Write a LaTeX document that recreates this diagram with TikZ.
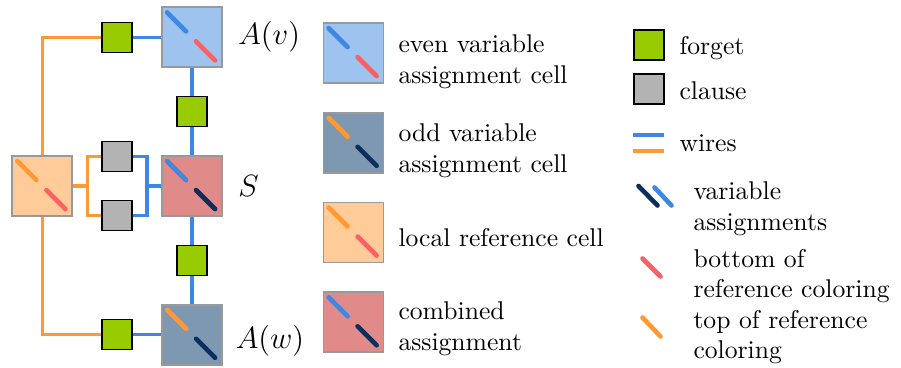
\documentclass[tikz,border=0pt]{standalone}
\usepackage{tikz}
\usetikzlibrary{positioning}
\definecolor{evencol}{HTML}{9EC3EE}
\definecolor{oddcol}{HTML}{7F98B2}
\definecolor{refcol}{HTML}{FFCC99}
\definecolor{combcol}{HTML}{E08A8A}
\definecolor{forgetcol}{HTML}{99CC00}
\definecolor{clausecol}{HTML}{B3B3B3}
\definecolor{wblue}{HTML}{3C88E2}
\definecolor{worange}{HTML}{FF9933}
\definecolor{sred}{HTML}{FA6064}
\definecolor{snavy}{HTML}{0A2F5E}
\tikzstyle{cell} = [rectangle, minimum size=23.4pt, inner sep=0pt, draw=black!40, line width=0.7pt]
\tikzstyle{forget} = [rectangle, minimum size=11.7pt, inner sep=0pt, draw=black, line width=0.6pt, fill=forgetcol]
\tikzstyle{clause} = [forget, fill=clausecol]
\tikzstyle{bwire} = [wblue, line width=1.2pt]
\tikzstyle{owire} = [worange, line width=1.2pt]
\tikzstyle{slash} = [line width=1.8pt, line cap=round]
\tikzstyle{legtext} = [anchor=west, inner sep=0pt, align=left]
\tikzstyle{celllabel} = [font=\large]
\newcommand{\cellslash}[3]{%
\draw[slash,#2,shift={(#1.north west)}] (6,6) -- (25,25);
\draw[slash,#3,shift={(#1.north west)}] (35,35) -- (54,54);}

\begin{document}
\begin{tikzpicture}[x=0.39pt, y=-0.39pt, node distance=10.8pt]
\useasboundingbox (0,0) rectangle (901,368);

\node(s) [cell, fill=combcol] at (192,186) {};
\node(forget_a) [forget, above=of s] {};
\node(av) [cell, fill=evencol, above=of forget_a] {};
\node(forget_b) [forget, below=of s] {};
\node(aw) [cell, fill=oddcol, below=of forget_b] {};
\node(lref) [cell, fill=refcol, left=34.3pt of s] {};
\node(forget_v) [forget, left=11pt of av] {};
\node(forget_w) [forget, left=11pt of aw] {};
\node(clause_a) [clause] at (117,156.5) {};
\node(clause_b) [clause] at (117,215.5) {};
\coordinate[right=5.5pt of lref] (j_ref);
\coordinate[left=5.5pt of s] (j_s);

\node(lab_av) [celllabel, right=2.5pt of av] {$A(v)$};
\node(lab_s) [celllabel, right=2.5pt of s] {$S$};
\node(lab_aw) [celllabel, right=1.5pt of aw, yshift=-2.3pt] {$A(w)$};

\draw[owire] (lref) |- (forget_v);
\draw[owire] (lref) |- (forget_w);
\draw[owire] (lref) -- (j_ref);
\draw[owire] (clause_a) -| (j_ref) |- (clause_b);
\draw[bwire] (clause_a) -| (j_s) |- (clause_b);
\draw[bwire] (j_s) -- (s);
\draw[bwire] (forget_v) edge (av) (forget_w) edge (aw);
\draw[bwire] (av) edge (forget_a) (forget_a) edge (s) (s) edge (forget_b) (forget_b) edge (aw);

\cellslash{av}{wblue}{sred}
\cellslash{s}{wblue}{snavy}
\cellslash{aw}{worange}{snavy}
\cellslash{lref}{worange}{sred}

% legend
\node(leg_even) [cell, fill=evencol] at (353.5,53) {};
\node(leg_odd) [cell, fill=oddcol, below=10.9pt of leg_even] {};
\node(leg_ref) [cell, fill=refcol, below=10.9pt of leg_odd] {};
\node(leg_comb) [cell, fill=combcol, below=10.9pt of leg_ref] {};
\cellslash{leg_even}{wblue}{sred}
\cellslash{leg_odd}{worange}{snavy}
\cellslash{leg_ref}{worange}{sred}
\cellslash{leg_comb}{wblue}{snavy}
\node(txt_even) [legtext] at (398,62) {even variable\\assignment cell};
\node(txt_odd) [legtext] at (398,151) {odd variable\\assignment cell};
\node(txt_ref) [legtext] at (398,238) {local reference cell};
\node(txt_comb) [legtext] at (398,329) {combined\\assignment};

\node(leg_forget) [forget] at (649,45) {};
\node(leg_clause) [clause, below=4.9pt of leg_forget] {};
\node(txt_forget) [legtext] at (679,48.6) {forget};
\node(txt_clause) [legtext] at (679,91) {clause};
\draw[bwire] (633,135) -- (664,135);
\draw[owire] (633,151) -- (664,151);
\node(txt_wires) [legtext] at (679,143.4) {wires};
\draw[slash, snavy] (638.5,186) -- (657.5,205.5);
\draw[slash, wblue] (654.5,187.5) -- (671.5,205.5);
\draw[slash, sred] (642.5,258.5) -- (660.5,276.5);
\draw[slash, worange] (642.5,317.5) -- (660.5,336.5);
\node(txt_vars) [legtext] at (693,209) {variable\\assignments};
\node(txt_bottom) [legtext] at (693,276) {bottom of\\reference coloring};
\node(txt_top) [legtext] at (693,337) {top of reference\\coloring};

\end{tikzpicture}
\end{document}
